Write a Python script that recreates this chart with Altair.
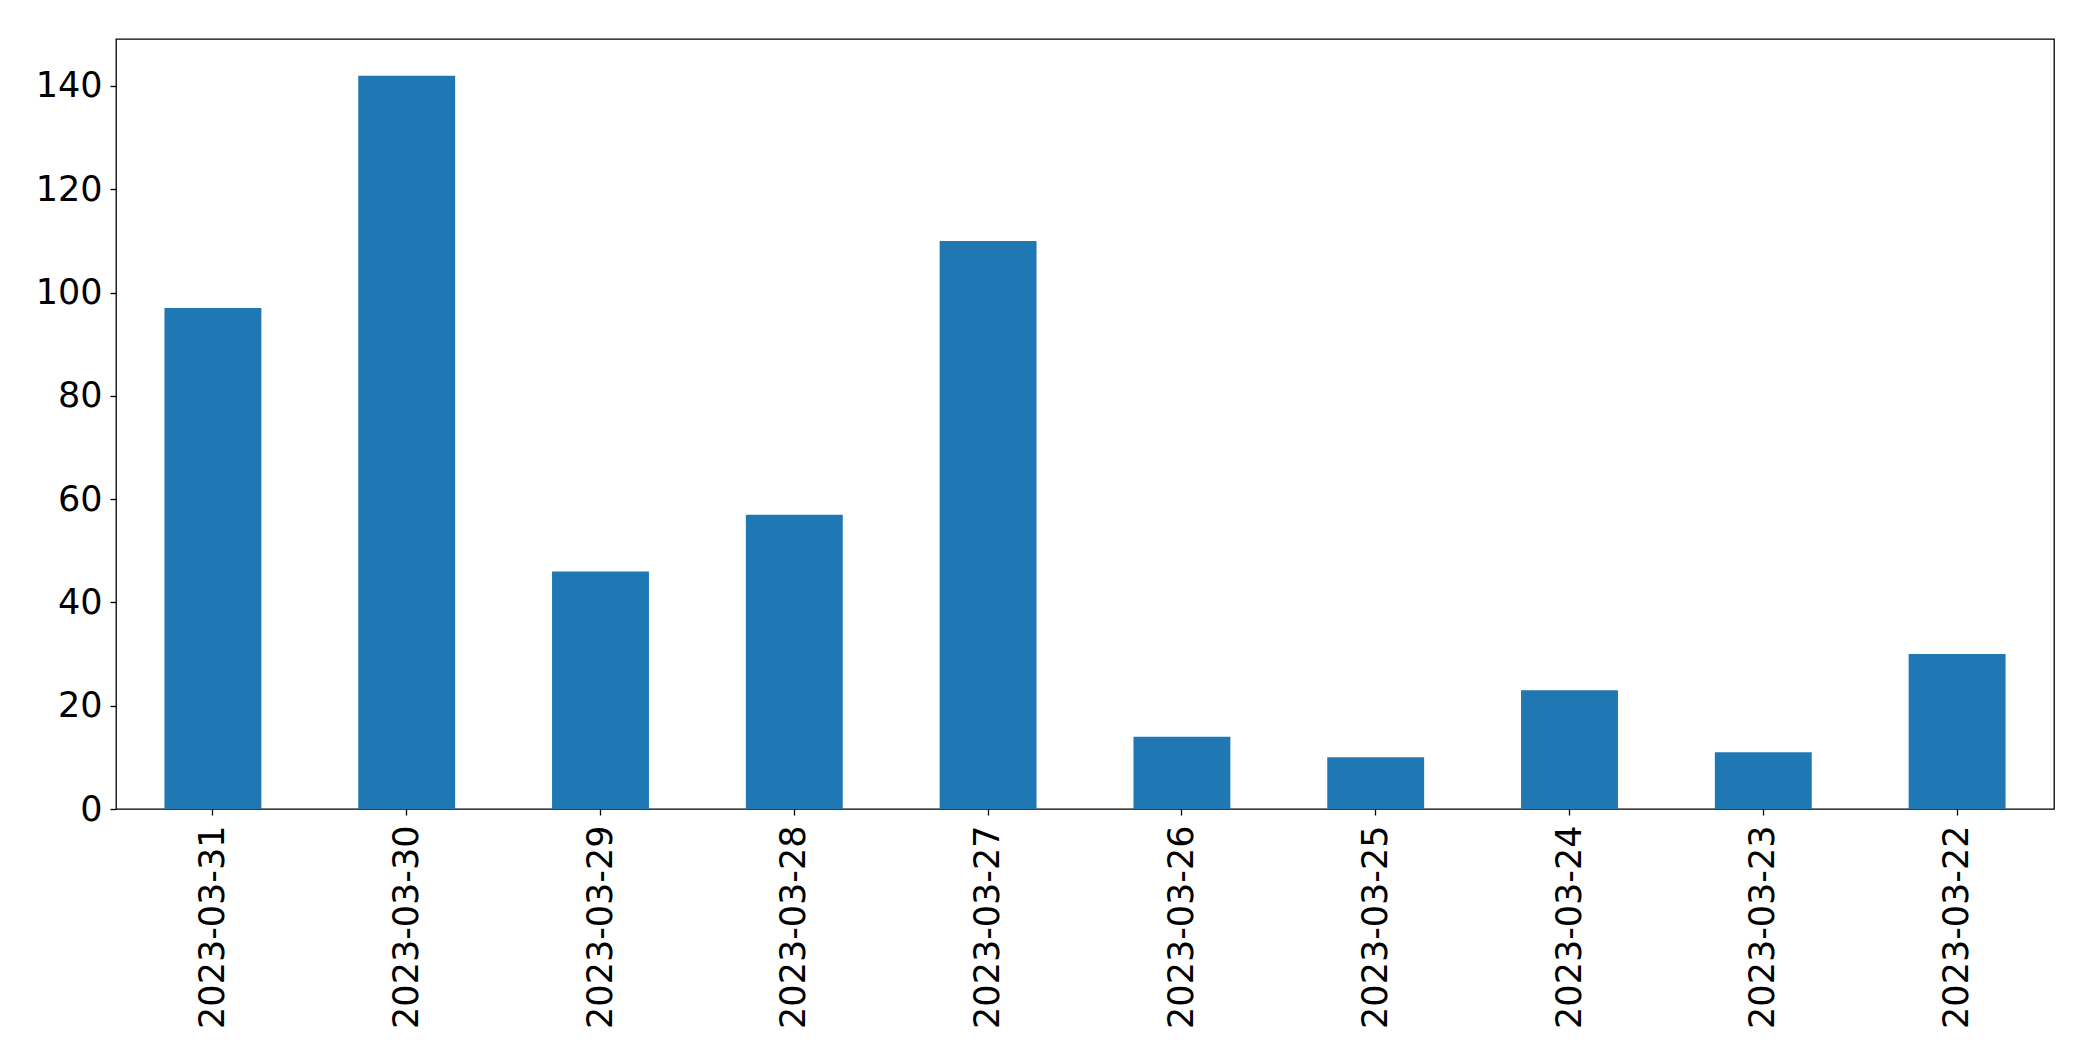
import altair as alt
import pandas as pd

dates = ["2023-03-31", "2023-03-30", "2023-03-29", "2023-03-28", "2023-03-27",
         "2023-03-26", "2023-03-25", "2023-03-24", "2023-03-23", "2023-03-22"]
counts = [97, 142, 46, 57, 110, 14, 10, 23, 11, 30]
y_ticks = [0, 20, 40, 60, 80, 100, 120, 140]

df = pd.DataFrame({"date": dates, "count": counts})

chart = (
    alt.Chart(df)
    .mark_bar(color="#1f77b4")
    .encode(
        x=alt.X(
            "date:N",
            sort=dates,
            title=None,
            scale=alt.Scale(paddingInner=0.5, paddingOuter=0.25),
            axis=alt.Axis(
                labelAngle=270,
                labelFontSize=35,
                labelPadding=10,
                labelLimit=1000,
                tickSize=6,
                tickColor="black",
                tickWidth=1.3,
                domain=False,
                labelColor="black",
                labelFont="DejaVu Sans",
            ),
        ),
        y=alt.Y(
            "count:Q",
            title=None,
            scale=alt.Scale(domain=[0, 149.1], nice=False, zero=True),
            axis=alt.Axis(
                values=y_ticks,
                grid=False,
                labelFontSize=35,
                labelPadding=8,
                tickSize=6,
                tickColor="black",
                tickWidth=1.3,
                domain=False,
                labelColor="black",
                labelFont="DejaVu Sans",
            ),
        ),
    )
    .properties(
        width=1938,
        height=770,
        autosize=alt.AutoSizeParams(type="none"),
        padding={"left": 108, "top": 31, "right": 20, "bottom": 230},
        background="white",
    )
    .configure_view(stroke="black", strokeWidth=1.3)
)

chart.save("out.html", embed_options={"renderer": "svg", "actions": False})
